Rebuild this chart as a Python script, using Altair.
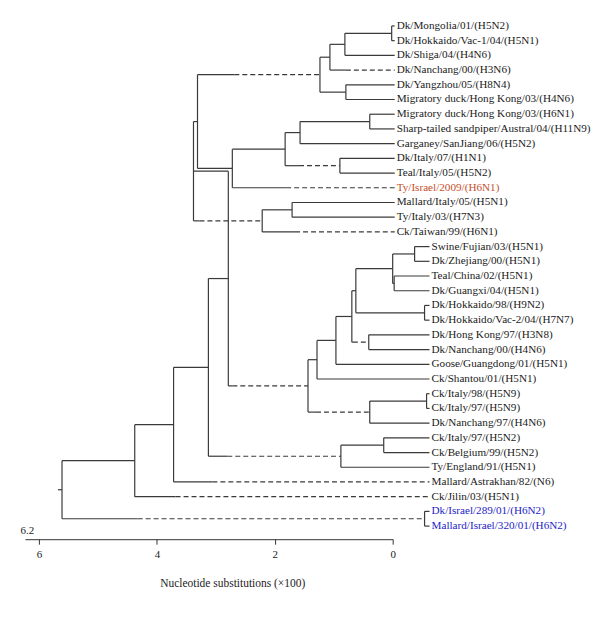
import altair as alt
import pandas as pd

# ---- leaves (top to bottom) ----
leaves = [
    "Dk/Mongolia/01/(H5N2)", "Dk/Hokkaido/Vac-1/04/(H5N1)", "Dk/Shiga/04/(H4N6)",
    "Dk/Nanchang/00/(H3N6)", "Dk/Yangzhou/05/(H8N4)", "Migratory duck/Hong Kong/03/(H4N6)",
    "Migratory duck/Hong Kong/03/(H6N1)", "Sharp-tailed sandpiper/Austral/04/(H11N9)",
    "Garganey/SanJiang/06/(H5N2)", "Dk/Italy/07/(H1N1)", "Teal/Italy/05/(H5N2)",
    "Ty/Israel/2009/(H6N1)", "Mallard/Italy/05/(H5N1)", "Ty/Italy/03/(H7N3)",
    "Ck/Taiwan/99/(H6N1)", "Swine/Fujian/03/(H5N1)", "Dk/Zhejiang/00/(H5N1)",
    "Teal/China/02/(H5N1)", "Dk/Guangxi/04/(H5N1)", "Dk/Hokkaido/98/(H9N2)",
    "Dk/Hokkaido/Vac-2/04/(H7N7)", "Dk/Hong Kong/97/(H3N8)", "Dk/Nanchang/00/(H4N6)",
    "Goose/Guangdong/01/(H5N1)", "Ck/Shantou/01/(H5N1)", "Ck/Italy/98/(H5N9)",
    "Ck/Italy/97/(H5N9)", "Dk/Nanchang/97/(H4N6)", "Ck/Italy/97/(H5N2)",
    "Ck/Belgium/99/(H5N2)", "Ty/England/91/(H5N1)", "Mallard/Astrakhan/82/(N6)",
    "Ck/Jilin/03/(H5N1)", "Dk/Israel/289/01/(H6N2)", "Mallard/Israel/320/01/(H6N2)",
]
leaf_tip = [
    -0.034, -0.034, -0.034, -0.034, -0.034, -0.034, -0.034, -0.034, -0.034, -0.034,
    -0.034, -0.034, -0.034, -0.034, -0.034, -0.625, -0.625, -0.625, -0.625, -0.625,
    -0.625, -0.625, -0.625, -0.625, -0.625, -0.625, -0.625, -0.625, -0.625, -0.625,
    -0.625, -0.625, -0.625, -0.625, -0.625,
]
leaf_group = ["plain"] * 11 + ["red"] + ["plain"] * 21 + ["blue", "blue"]

# ---- internal nodes: name, distance (x100 substitutions), children ----
node_names = ["K", "J", "I", "L", "H", "F", "E", "G", "D", "C", "A", "N", "M", "B",
              "Y", "X1", "X2", "Z", "V", "W", "U", "T", "S", "AB", "AA", "R", "P",
              "CC", "BB", "Q", "DD", "EE", "IS", "FF"]
node_x = [0.017, 0.811, 1.065, 0.794, 1.234, 0.389, 1.572, 0.896, 1.825, 2.721, 3.312,
          1.707, 2.214, 3.380, -0.372, -0.025, 0.0, -0.541, 0.625, 0.406, 0.693, 0.963,
          1.284, -0.575, 0.389, 1.437, 2.789, 0.152, 0.879, 3.127, 3.718, 4.377, -0.541,
          5.611]
node_children = [
    [0, 1], ["K", 2], ["J", 3], [4, 5], ["I", "L"], [6, 7], ["F", 8], [9, 10],
    ["E", "G"], ["D", 11], ["H", "C"], [12, 13], ["N", 14], ["A", "M"],
    [15, 16], [17, 18], ["Y", "X1"], [19, 20], ["X2", "Z"], [21, 22], ["V", "W"],
    ["U", 23], ["T", 24], [25, 26], ["AB", 27], ["S", "AA"], ["B", "R"],
    [28, 29], ["CC", 30], ["P", "BB"], ["Q", 31], ["DD", 32], [33, 34], ["EE", "IS"],
]
# branches drawn dashed from this distance onward (toward the child)
break_child = ["H", 3, 11, "G", "M", 14, "W", "R", "AA", "BB", 31, 32, "IS"]
break_at = [2.687, 0.794, 1.808, 1.589, 3.279, 1.656, 0.676, 2.721, 1.301, 2.806,
            3.059, 3.684, 4.327]
root_stub = 5.68

axis_ticks = [6, 4, 2, 0]

# ---- layout ----
nx = dict(zip(node_names, node_x))
nch = dict(zip(node_names, node_children))
brk = dict(zip(break_child, break_at))
ycache = {}


def ypos(c):
    if isinstance(c, int):
        return float(c)
    if c not in ycache:
        ch = nch[c]
        ycache[c] = (ypos(ch[0]) + ypos(ch[-1])) / 2
    return ycache[c]


def xpos(c):
    return leaf_tip[c] if isinstance(c, int) else nx[c]


segs = []
for name in node_names:
    px = nx[name]
    ch = nch[name]
    segs.append(dict(x=px, x2=px, y=ypos(ch[0]), y2=ypos(ch[-1]), s="solid"))
    for c in ch:
        cy = ypos(c)
        cx = xpos(c)
        if c in brk:
            segs.append(dict(x=px, x2=brk[c], y=cy, y2=cy, s="solid"))
            segs.append(dict(x=brk[c], x2=cx, y=cy, y2=cy, s="dash"))
        else:
            segs.append(dict(x=px, x2=cx, y=cy, y2=cy, s="solid"))
ry = ypos("FF")
segs.append(dict(x=root_stub, x2=nx["FF"], y=ry, y2=ry, s="solid"))
seg_df = pd.DataFrame(segs)

lab_df = pd.DataFrame({"x": leaf_tip, "y": [float(i) for i in range(len(leaves))],
                       "label": leaves, "grp": leaf_group})

W, H = 369, 530
serif = "Liberation Serif"
line_col = "#3a3a3a"

xs = alt.Scale(domain=[0, 6.24], reverse=True, nice=False, zero=False)
ys = alt.Scale(domain=[-1.016, 34.89], reverse=True, nice=False, zero=False)
x_axis = alt.Axis(values=axis_ticks, format="d", grid=False, domainColor="#333",
                  tickColor="#333", tickSize=5, labelFont=serif, labelFontSize=11,
                  labelColor="#222", labelPadding=4, labelFlush=False,
                  title="Nucleotide substitutions (×100)", titleFont=serif,
                  titleFontSize=11.5, titleFontWeight="normal", titleColor="#222",
                  titleX=208, titleY=44, titleBaseline="middle", titleAlign="center")
xe = alt.X("x:Q", scale=xs, axis=x_axis)
ye = alt.Y("y:Q", scale=ys, axis=None)

solid = alt.Chart(seg_df).transform_filter(alt.datum.s == "solid").mark_rule(
    color=line_col, strokeWidth=1.2).encode(x=xe, x2="x2:Q", y=ye, y2="y2:Q")
dash = alt.Chart(seg_df).transform_filter(alt.datum.s == "dash").mark_rule(
    color=line_col, strokeWidth=1.2, strokeDash=[5, 3]).encode(x=xe, x2="x2:Q", y=ye, y2="y2:Q")

labels = alt.Chart(lab_df).mark_text(
    align="left", baseline="middle", dx=2, font=serif, fontSize=11.2
).encode(
    x=xe, y=ye, text="label:N",
    color=alt.Color("grp:N", scale=alt.Scale(domain=["plain", "red", "blue"],
                                             range=["#1a1a1a", "#c4502c", "#2424c8"]),
                    legend=None),
)

scale_lab = alt.Chart(pd.DataFrame({"x": [6.2], "t": ["6.2"]})).mark_text(
    align="center", baseline="middle", font=serif, fontSize=11, color="#222"
).encode(x=xe, y=alt.value(H - 8), text="t:N")

chart = alt.layer(solid, dash, labels, scale_lab).properties(
    width=W, height=H,
    autosize=alt.AutoSizeParams(type="none"),
    padding={"left": 17, "top": 2, "right": 200, "bottom": 60},
).configure_view(strokeWidth=0)

chart.save("out.html", embed_options={"renderer": "svg", "actions": False})
